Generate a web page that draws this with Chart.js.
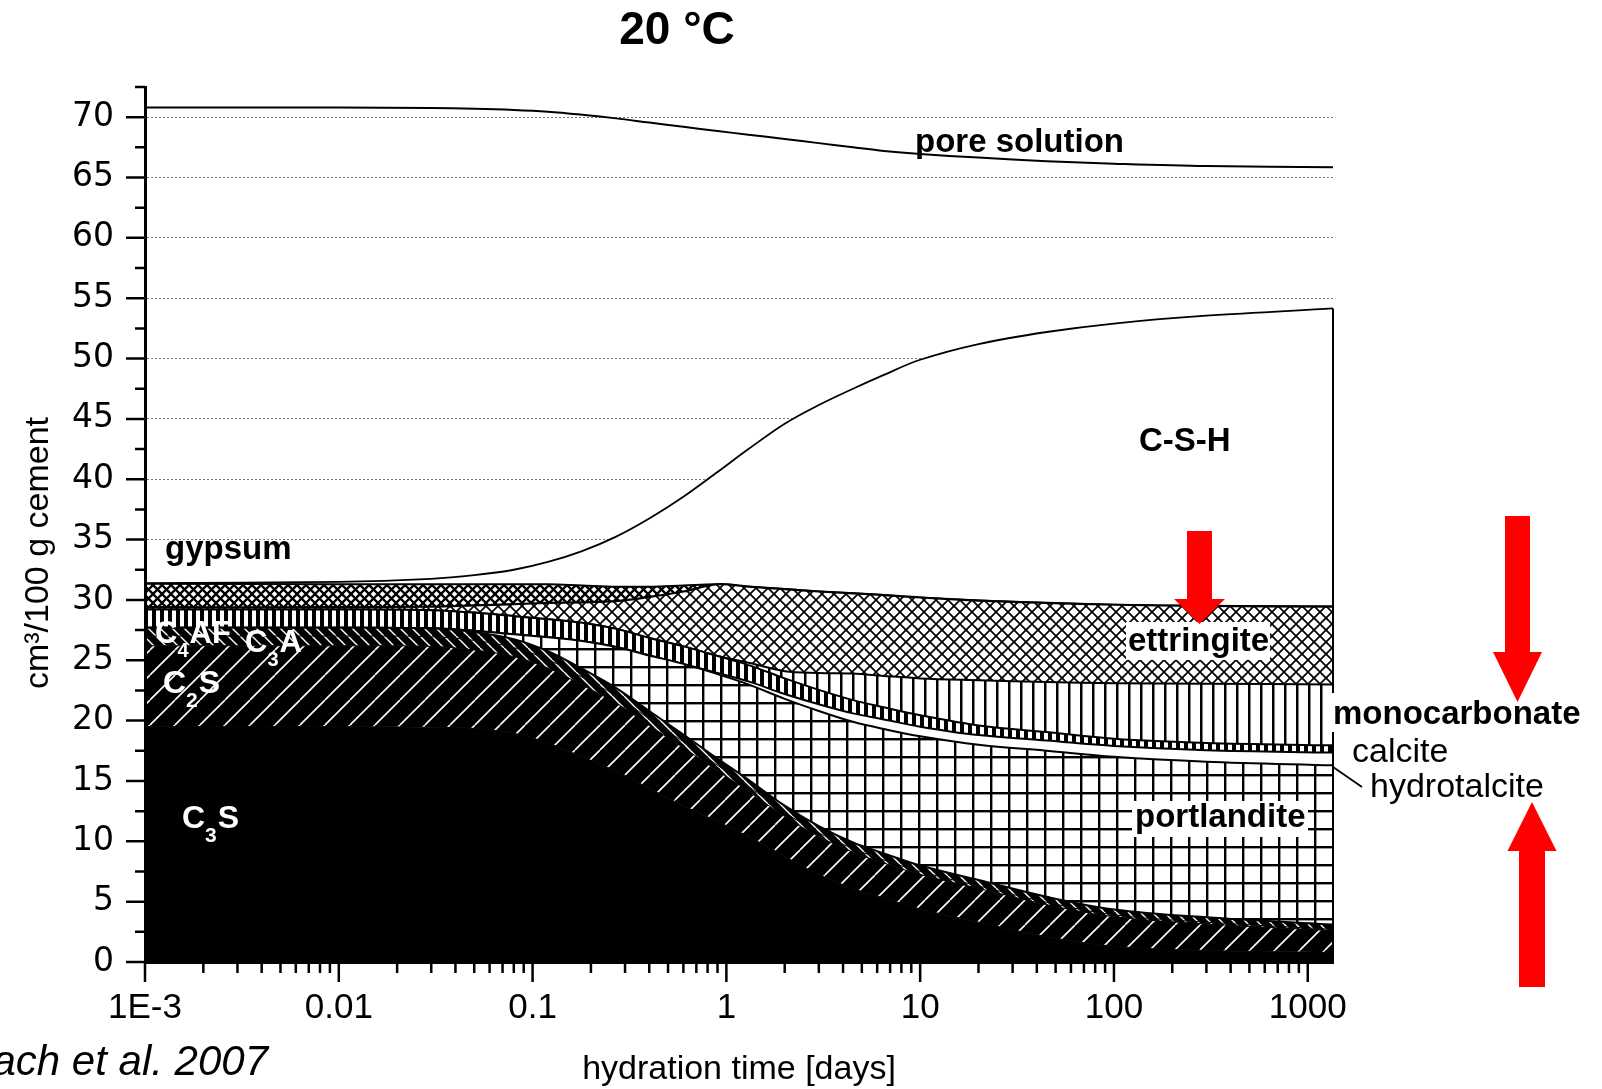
<!DOCTYPE html>
<html>
  <head>
    <title>Hydration of Portland cement at 20 °C</title>
    <meta charset="utf-8" />
    <style>
      html, body { margin: 0; padding: 0; background: #fff; }
      #chart-container { width: 1602px; height: 1089px; }
    </style>
  </head>
  <body>
    <div id="chart-container">
      <canvas id="phase-chart" width="1602" height="1089"></canvas>
    </div>

    <script src="https://cdn.jsdelivr.net/npm/chart.js"></script>
    <script>
      // hydration time [days]
      var times = [0.001, 0.01, 0.03, 0.05, 0.08, 0.12, 0.18, 0.27, 0.4, 0.6, 0.9, 1.3, 2, 3, 4.5, 6.5, 10, 20, 45, 100, 300, 1350];

      // volume of each phase, cm3 / 100 g cement (stacked bottom to top)
      var c3s = [19.5, 19.5, 19.45, 19.35, 18.95, 18.15, 17.0, 15.8, 14.4, 12.95, 11.65, 10.4, 8.75, 7.25, 6.1, 5.3, 4.4, 3.3, 2.1, 1.3, 0.95, 0.8];
      var c2s = [6.7, 6.7, 6.7, 6.5, 6.35, 6.2, 5.95, 5.65, 5.2, 4.8, 4.2, 3.75, 3.3, 3.15, 3.0, 2.9, 2.85, 2.8, 2.65, 2.45, 2.2, 1.8];
      var c3a = [0.8, 0.8, 0.8, 0.8, 0.75, 0.7, 0.65, 0.6, 0.55, 0.5, 0.45, 0.4, 0.35, 0.3, 0.3, 0.25, 0.25, 0.2, 0.2, 0.15, 0.15, 0.1];
      var c4af = [0.7, 0.7, 0.7, 0.7, 0.7, 0.7, 0.7, 0.65, 0.65, 0.6, 0.55, 0.55, 0.55, 0.55, 0.5, 0.55, 0.5, 0.5, 0.45, 0.45, 0.4, 0.4];
      var portlandite = [0, 0, 0, 0.1, 0.4, 1.15, 2.3, 3.4, 4.6, 5.85, 7.0, 7.9, 8.85, 9.55, 10.0, 10.3, 10.7, 11.2, 12.1, 12.65, 12.9, 13.2];
      var hydrotalcite = [0, 0, 0, 0, 0, 0, 0, 0, 0, 0, 0.1, 0.25, 0.4, 0.55, 0.7, 0.8, 0.8, 0.8, 0.85, 0.9, 0.95, 1.05];
      var calcite = [1.5, 1.5, 1.5, 1.5, 1.5, 1.5, 1.5, 1.5, 1.45, 1.45, 1.4, 1.35, 1.3, 1.2, 1.1, 1.0, 0.95, 0.8, 0.7, 0.6, 0.6, 0.6];
      var monocarbonate = [0, 0, 0, 0, 0, 0, 0, 0, 0, 0, 0, 0.2, 0.6, 1.4, 2.2, 2.6, 3.05, 3.75, 4.15, 4.6, 4.9, 5.05];
      var ettringite = [0.2, 0.2, 0.3, 0.6, 1.0, 1.35, 1.7, 2.3, 3.4, 4.55, 5.95, 6.3, 6.8, 6.75, 6.65, 6.7, 6.7, 6.6, 6.55, 6.5, 6.45, 6.45];
      var gypsum = [1.95, 1.9, 1.85, 1.75, 1.65, 1.55, 1.4, 1.2, 0.85, 0.5, 0, 0, 0, 0, 0, 0, 0, 0, 0, 0, 0, 0];
      var csh = [0.05, 0.2, 0.45, 0.75, 1.2, 1.85, 2.85, 4.15, 5.65, 7.35, 9.3, 11.4, 13.7, 15.45, 16.95, 18.25, 19.7, 21.25, 22.45, 23.3, 24.05, 24.7];
      var poreSolution = [39.4, 39.3, 39.0, 38.65, 38.1, 37.3, 36.15, 34.65, 32.8, 30.65, 28.25, 26.05, 23.6, 21.7, 20.0, 18.55, 17.05, 15.45, 14.15, 13.25, 12.4, 11.7];

      var xTickLabels = ["1E-3", "0.01", "0.1", "1", "10", "100", "1000"];
      var xMin = 0.001;
      var xMax = 1350;
      var yMax = 72.5;

      var canvas = document.getElementById("phase-chart");
      var ctx = canvas.getContext("2d");
      var sans = '"Liberation Sans", Arial, sans-serif';

      function makeTile(w, h, bg, paint) {
        var tile = document.createElement("canvas");
        tile.width = w;
        tile.height = h;
        var g = tile.getContext("2d");
        g.fillStyle = bg;
        g.fillRect(0, 0, w, h);
        paint(g, w, h);
        return ctx.createPattern(tile, "repeat");
      }

      function hatch(g, s, dir, color, width) {
        g.strokeStyle = color;
        g.lineWidth = width;
        g.beginPath();
        for (var k = -1; k <= 1; k++) {
          if (dir > 0) {
            g.moveTo(k * s, s);
            g.lineTo(k * s + s, 0);
          } else {
            g.moveTo(k * s, 0);
            g.lineTo(k * s + s, s);
          }
        }
        g.stroke();
      }

      var c2sFill = makeTile(25, 25, "#000", function (g) { hatch(g, 25, 1, "#fff", 1.6); });
      var aluminateFill = makeTile(12, 12, "#000", function (g) { hatch(g, 12, -1, "#fff", 1.4); });
      var portlanditeFill = makeTile(18, 18, "#fff", function (g) {
        g.fillStyle = "#000";
        g.fillRect(0, 0, 2.4, 18);
        g.fillRect(0, 0, 18, 2.4);
      });
      var calciteFill = makeTile(8, 8, "#fff", function (g) { g.fillStyle = "#000"; g.fillRect(0, 0, 4, 8); });
      var monoFill = makeTile(12, 12, "#fff", function (g) { g.fillStyle = "#000"; g.fillRect(0, 0, 2.5, 12); });
      var ettringiteFill = makeTile(12, 12, "#fff", function (g) {
        hatch(g, 12, 1, "#000", 1.7);
        hatch(g, 12, -1, "#000", 1.7);
      });
      var gypsumFill = makeTile(9, 9, "#fff", function (g) {
        hatch(g, 9, 1, "#000", 2.3);
        hatch(g, 9, -1, "#000", 2.3);
      });

      function layer(label, values, fill, background, lineWidth) {
        return {
          label: label,
          data: times.map(function (t, i) { return { x: t, y: values[i] }; }),
          fill: fill,
          backgroundColor: background,
          borderColor: "#000",
          borderWidth: lineWidth,
          pointRadius: 0,
          tension: 0.35,
        };
      }

      var datasets = [
        layer("C3S", c3s, "origin", "#000", 1),
        layer("C2S", c2s, "-1", c2sFill, 1),
        layer("C3A", c3a, "-1", aluminateFill, 1),
        layer("C4AF", c4af, "-1", aluminateFill, 2),
        layer("portlandite", portlandite, "-1", portlanditeFill, 2),
        layer("hydrotalcite", hydrotalcite, "-1", "#fff", 2),
        layer("calcite", calcite, "-1", calciteFill, 2),
        layer("monocarbonate", monocarbonate, "-1", monoFill, 2),
        layer("ettringite", ettringite, "-1", ettringiteFill, 2.2),
        layer("gypsum", gypsum, "-1", gypsumFill, 2),
        layer("C-S-H", csh, "-1", "#fff", 1.8),
        layer("pore solution", poreSolution, false, "rgba(0,0,0,0)", 2),
      ];
      var cshIndex = 10;

      // text placed on the figure (pixel positions)
      var plainLabels = [
        { text: "pore solution", x: 915, y: 152, font: "bold 33px " + sans },
        { text: "C-S-H", x: 1139, y: 451, font: "bold 33px " + sans },
        { text: "gypsum", x: 165, y: 559, font: "bold 33px " + sans },
        { text: "calcite", x: 1352, y: 762, font: "34px " + sans },
        { text: "hydrotalcite", x: 1370, y: 797, font: "34px " + sans },
      ];
      var boxedLabels = [
        { text: "ettringite", x: 1128, y: 651, box: [1126, 622, 144, 38] },
        { text: "portlandite", x: 1135, y: 827, box: [1132, 801, 176, 36] },
        { text: "monocarbonate", x: 1333, y: 724, box: [1330, 693, 258, 39] },
      ];
      var clinkerLabels = [
        { parts: [["C", 0], ["4", 1], ["AF", 0]], x: 155, y: 643, size: 31 },
        { parts: [["C", 0], ["3", 1], ["A", 0]], x: 245, y: 652, size: 31 },
        { parts: [["C", 0], ["2", 1], ["S", 0]], x: 163, y: 693, size: 32 },
        { parts: [["C", 0], ["3", 1], ["S", 0]], x: 182, y: 828, size: 32 },
      ];
      var arrows = [
        { x: 1199.5, from: 531, tip: 624, shaft: 25, head: 51, headLen: 25 },
        { x: 1517.5, from: 516, tip: 702, shaft: 25, head: 49, headLen: 50 },
        { x: 1532, from: 987, tip: 802, shaft: 26, head: 49, headLen: 49 },
      ];

      function drawRich(c, item) {
        var cx = item.x;
        item.parts.forEach(function (p) {
          var sub = p[1] === 1;
          var size = sub ? Math.round(item.size * 0.65) : item.size;
          c.font = "bold " + size + "px " + sans;
          c.fillText(p[0], cx, sub ? item.y + item.size * 0.45 : item.y);
          cx += c.measureText(p[0]).width + (sub ? 1 : 0);
        });
      }

      function drawArrow(c, a) {
        var dir = a.tip > a.from ? 1 : -1;
        var base = a.tip - dir * a.headLen;
        c.beginPath();
        c.moveTo(a.x - a.shaft / 2, a.from);
        c.lineTo(a.x + a.shaft / 2, a.from);
        c.lineTo(a.x + a.shaft / 2, base);
        c.lineTo(a.x + a.head / 2, base);
        c.lineTo(a.x, a.tip);
        c.lineTo(a.x - a.head / 2, base);
        c.lineTo(a.x - a.shaft / 2, base);
        c.closePath();
        c.fill();
      }

      var decor = {
        id: "decor",
        afterDraw: function (chart) {
          var c = chart.ctx;
          var x = chart.scales.x;
          var y = chart.scales.y;
          c.save();

          // tick marks, major and minor
          c.strokeStyle = "#000";
          c.lineWidth = 2.5;
          c.beginPath();
          for (var v = 0; v <= yMax + 1e-9; v += 2.5) {
            var py = y.getPixelForValue(v);
            var len = Math.abs(v % 5) < 1e-9 ? 19 : 10;
            c.moveTo(x.left, py);
            c.lineTo(x.left - len, py);
          }
          for (var e = -3; e <= 3; e++) {
            for (var m = 1; m <= 9; m++) {
              var tv = m * Math.pow(10, e);
              if (tv > xMax) break;
              var px = x.getPixelForValue(tv);
              c.moveTo(px, y.bottom);
              c.lineTo(px, y.bottom + (m === 1 ? 20 : 11));
            }
          }
          c.stroke();

          // right edge of the solid phases
          var meta = chart.getDatasetMeta(cshIndex);
          var last = meta.data[meta.data.length - 1];
          c.lineWidth = 2;
          c.beginPath();
          c.moveTo(last.x, last.y);
          c.lineTo(last.x, y.getPixelForValue(0));
          c.stroke();

          // hydrotalcite leader
          c.lineWidth = 1.8;
          c.beginPath();
          c.moveTo(1333, 767);
          c.lineTo(1362, 787);
          c.stroke();

          // labels
          c.textAlign = "left";
          c.textBaseline = "alphabetic";
          c.fillStyle = "#000";
          plainLabels.forEach(function (l) {
            c.font = l.font;
            c.fillText(l.text, l.x, l.y);
          });
          boxedLabels.forEach(function (l) {
            c.fillStyle = "#fff";
            c.fillRect(l.box[0], l.box[1], l.box[2], l.box[3]);
            c.fillStyle = "#000";
            c.font = "bold 33px " + sans;
            c.fillText(l.text, l.x, l.y);
          });
          c.fillStyle = "#fff";
          clinkerLabels.forEach(function (l) { drawRich(c, l); });

          c.fillStyle = "#ff0000";
          arrows.forEach(function (a) { drawArrow(c, a); });

          // titles
          c.fillStyle = "#000";
          c.textAlign = "center";
          c.font = "bold 46px " + sans;
          c.fillText("20 °C", 677, 44);
          c.font = "34px " + sans;
          c.fillText("hydration time [days]", 739, 1079);
          c.save();
          c.translate(48, 553);
          c.rotate(-Math.PI / 2);
          c.fillText("cm³/100 g cement", 0, 0);
          c.restore();
          c.textAlign = "right";
          c.font = "italic 42px " + sans;
          c.fillText("Lothenbach et al. 2007", 268, 1075);

          c.restore();
        },
      };

      var chart = new Chart(canvas, {
        type: "line",
        data: { datasets: datasets },
        plugins: [decor],
        options: {
          responsive: false,
          animation: false,
          events: [],
          layout: { padding: { left: 0, top: 87, right: 269, bottom: 0 } },
          plugins: {
            legend: { display: false },
            tooltip: { enabled: false },
            title: { display: false },
          },
          scales: {
            x: {
              type: "logarithmic",
              min: xMin,
              max: xMax,
              afterFit: function (s) { s.height = 127; },
              grid: { display: false, drawTicks: false },
              border: { display: true, color: "#000", width: 3, z: 1 },
              ticks: {
                autoSkip: false,
                maxRotation: 0,
                padding: 25,
                color: "#000",
                font: { family: sans, size: 35 },
                callback: function (value) {
                  var e = Math.log10(value);
                  var r = Math.round(e);
                  if (Math.abs(e - r) > 1e-6) return "";
                  return xTickLabels[r + 3] || "";
                },
              },
            },
            y: {
              stacked: true,
              min: 0,
              max: yMax,
              afterFit: function (s) { s.width = 145; },
              grid: { color: "#777", lineWidth: 1, drawTicks: false },
              border: { display: true, color: "#000", width: 3, dash: [2, 2], z: 1 },
              ticks: {
                stepSize: 5,
                includeBounds: false,
                padding: 31,
                color: "#000",
                font: { family: '"DejaVu Sans", sans-serif', size: 33 },
              },
            },
          },
        },
      });
    </script>
  </body>
</html>
